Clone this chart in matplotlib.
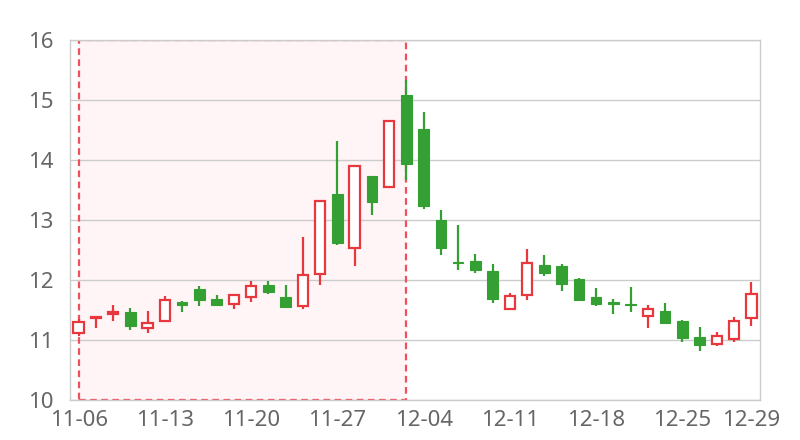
import numpy as np
import matplotlib.pyplot as plt
from matplotlib.patches import Rectangle

# торговые дни (будни 2023-11-06 .. 2023-12-29)
dates = ['11-06', '11-07', '11-08', '11-09', '11-10',
         '11-13', '11-14', '11-15', '11-16', '11-17',
         '11-20', '11-21', '11-22', '11-23', '11-24',
         '11-27', '11-28', '11-29', '11-30', '12-01',
         '12-04', '12-05', '12-06', '12-07', '12-08',
         '12-11', '12-12', '12-13', '12-14', '12-15',
         '12-18', '12-19', '12-20', '12-21', '12-22',
         '12-25', '12-26', '12-27', '12-28', '12-29']

opens = [11.12, 11.36, 11.43, 11.47, 11.20, 11.31, 11.64, 11.85, 11.69, 11.60,
         11.72, 11.91, 11.72, 11.56, 12.10, 13.44, 12.53, 13.73, 13.55, 15.08,
         14.51, 13.00, 12.30, 12.32, 12.15, 11.52, 11.75, 12.25, 12.23, 12.01,
         11.72, 11.63, 11.60, 11.40, 11.48, 11.31, 11.05, 10.93, 11.02, 11.37]
closes = [11.30, 11.38, 11.46, 11.24, 11.28, 11.66, 11.59, 11.67, 11.59, 11.75,
          11.90, 11.80, 11.55, 12.09, 13.31, 12.61, 13.90, 13.30, 14.65, 13.93,
          13.24, 12.53, 12.28, 12.17, 11.68, 11.73, 12.28, 12.12, 11.94, 11.67,
          11.60, 11.60, 11.58, 11.52, 11.28, 11.03, 10.91, 11.07, 11.31, 11.76]
highs = [11.35, 11.40, 11.58, 11.53, 11.48, 11.74, 11.65, 11.90, 11.75, 11.76,
         11.98, 11.98, 11.92, 12.72, 13.32, 14.32, 13.91, 13.73, 14.65, 15.33,
         14.80, 13.16, 12.91, 12.44, 12.27, 11.78, 12.52, 12.42, 12.27, 12.04,
         11.86, 11.69, 11.88, 11.58, 11.62, 11.34, 11.22, 11.13, 11.39, 11.96]
lows = [11.06, 11.20, 11.32, 11.16, 11.12, 11.30, 11.46, 11.56, 11.58, 11.51,
        11.64, 11.76, 11.54, 11.51, 11.91, 12.59, 12.24, 13.08, 13.55, 13.67,
        13.18, 12.41, 12.16, 12.12, 11.61, 11.52, 11.67, 12.06, 11.82, 11.65,
        11.57, 11.43, 11.46, 11.20, 11.28, 10.96, 10.81, 10.90, 10.97, 11.23]

tick_idx = [0, 5, 10, 15, 20, 25, 30, 35, 39]
# выделенный период
mark_start, mark_end = 0, 19

up_color = '#e8383d'
down_color = '#34a034'
grid_color = '#cccccc'
text_color = '#666666'

plt.rcParams['font.family'] = ['Noto Sans', 'DejaVu Sans']

fig = plt.figure(figsize=(8, 4.4), dpi=100)
ax = fig.add_axes([0.0875, 0.0909, 0.8625, 0.8182])

x = np.arange(len(dates))
o = np.array(opens)
c = np.array(closes)
up = c >= o
body_w = 0.62

# пунктирный прямоугольник выделения (под свечами)
ax.add_patch(Rectangle((mark_start, 10), mark_end - mark_start, 6,
                       facecolor='#fff5f6', edgecolor='none', zorder=0))
ax.add_patch(Rectangle((mark_start, 10), mark_end - mark_start, 6,
                       facecolor='none', edgecolor='#f0505c', linewidth=1.6,
                       linestyle=(0, (3, 2)), zorder=1.5))

# свечи
for i in x:
    col = up_color if up[i] else down_color
    ax.vlines(i, lows[i], highs[i], color=col, linewidth=1.6, zorder=2)
    bottom = min(o[i], c[i])
    height = max(abs(c[i] - o[i]), 0.01)
    if up[i]:
        ax.bar(i, height, bottom=bottom, width=body_w, facecolor='white',
               edgecolor=col, linewidth=1.6, zorder=3)
    else:
        ax.bar(i, height, bottom=bottom, width=body_w, facecolor=col,
               edgecolor=col, linewidth=0.8, zorder=3)

ax.set_xlim(-0.5, len(dates) - 0.5)
ax.set_ylim(10, 16)
ax.set_yticks(range(10, 17))
ax.set_xticks(tick_idx)
ax.set_xticklabels([dates[i] for i in tick_idx])
ax.tick_params(axis='both', length=0, labelsize=16, colors=text_color)
ax.tick_params(axis='y', pad=12)
ax.tick_params(axis='x', pad=7)
ax.grid(axis='y', color=grid_color, linewidth=1)
ax.set_axisbelow(True)
for s in ax.spines.values():
    s.set_color(grid_color)
    s.set_linewidth(1)

fig.savefig('out.png')
